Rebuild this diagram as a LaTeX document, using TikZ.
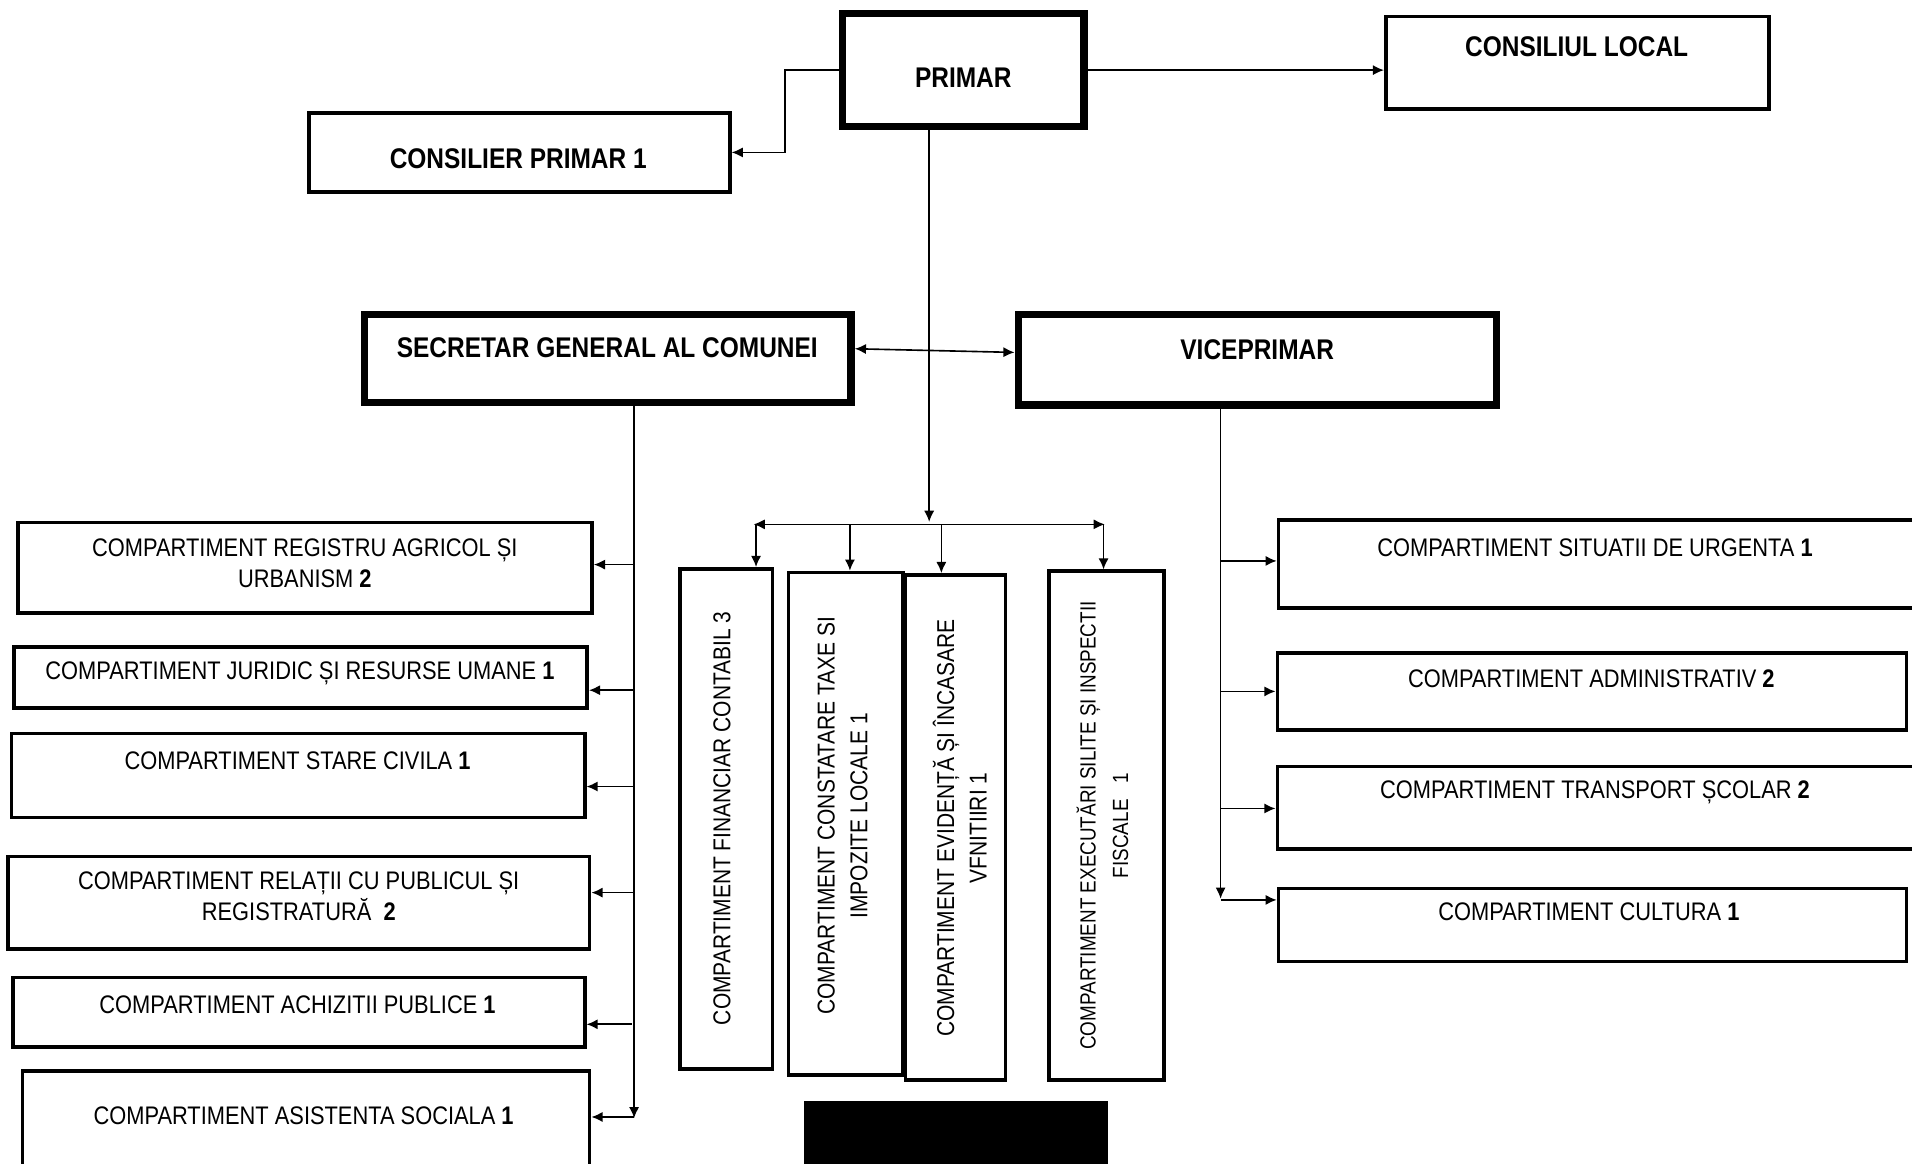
\documentclass[tikz,border=0pt]{standalone}
\usepackage{fontspec}
\setmainfont{Liberation Sans}[FakeStretch=0.86]
\usetikzlibrary{arrows.meta}
\tikzset{
  x=0.6pt, y=-0.6pt,
  thickbox/.style={draw, line width=3.6pt, inner sep=0pt},
  box/.style={draw, line width=1.8pt, inner sep=0pt},
  txt/.style={font=\fontsize{12.5}{15}\selectfont, align=center, inner sep=0pt},
  hdr/.style={font=\bfseries\fontsize{14}{16}\selectfont, align=center, inner sep=0pt},
  vtxt/.style={font=\fontsize{12}{16}\selectfont, align=center, inner sep=0pt, rotate=90},
  conn/.style={line width=0.8pt, -{Latex[length=5.5pt,width=5pt]}},
  dconn/.style={line width=0.8pt, {Latex[length=5.5pt,width=5pt]}-{Latex[length=5.5pt,width=5pt]}},
}
\newcommand\bx[6]{\node[#2, minimum width={(#5-#3)*0.6pt}, minimum height={(#6-#4)*0.6pt}] (#1) at ({(#3+#5)/2},{(#4+#6)/2}) {};}
\begin{document}
\begin{tikzpicture}
\useasboundingbox (0,0) rectangle (1568,954);
% boxes
\bx{primar}{thickbox}{691}{11}{889}{104}
\bx{cl}{box}{1136.5}{13.5}{1450.5}{89.5}
\bx{consilier}{box}{253.5}{92.5}{598.5}{157.5}
\bx{sec}{thickbox}{299}{258}{698}{330}
\bx{vice}{thickbox}{835}{258}{1227}{332}
\bx{reg}{box}{14.5}{428.5}{485.5}{502.5}
\bx{jur}{box}{11.5}{530.5}{481.5}{580.5}
\bx{stare}{box}{9.5}{601.5}{479.5}{670.5}
\bx{rel}{box}{6.5}{702.5}{483.5}{778.5}
\bx{ach}{box}{10.5}{801.5}{479.5}{858.5}
\bx{asist}{box}{18.5}{878.5}{483.5}{960}
\bx{sit}{box}{1048.5}{426.5}{1572}{498.5}
\bx{adm}{box}{1047.5}{535.5}{1563.5}{598.5}
\bx{trans}{box}{1047.5}{628.5}{1572}{696.5}
\bx{cult}{box}{1048.5}{728.5}{1563.5}{788.5}
\bx{fin}{box}{557.5}{466.5}{633.5}{876.5}
\bx{cons}{box}{646.5}{469.5}{740.5}{881.5}
\bx{evid}{box}{742.5}{471.5}{824.5}{885.5}
\bx{exec}{box}{860.5}{468.5}{954.5}{885.5}
% texts
\node[hdr] (tprimar) at (790,64) {PRIMAR};
\node[hdr] (tcl) at (1293,38) {CONSILIUL LOCAL};
\node[hdr] (tcons) at (425,130) {CONSILIER PRIMAR 1};
\node[hdr] (tsec) at (498,285) {SECRETAR GENERAL AL COMUNEI};
\node[hdr] (tvice) at (1031,287) {VICEPRIMAR};
\node[txt] (treg) at (250,462) {COMPARTIMENT REGISTRU AGRICOL ȘI\\URBANISM \textbf{2}};
\node[txt] (tjur) at (246,552) {COMPARTIMENT JURIDIC ȘI RESURSE UMANE \textbf{1}};
\node[txt] (tstare) at (244,624) {COMPARTIMENT STARE CIVILA \textbf{1}};
\node[txt] (trel) at (245,735) {COMPARTIMENT RELAȚII CU PUBLICUL ȘI\\REGISTRATURĂ\ \ \textbf{2}};
\node[txt] (tach) at (244,824) {COMPARTIMENT ACHIZITII PUBLICE \textbf{1}};
\node[txt] (tasist) at (249,915) {COMPARTIMENT ASISTENTA SOCIALA \textbf{1}};
\node[txt] (tsit) at (1308,449) {COMPARTIMENT SITUATII DE URGENTA \textbf{1}};
\node[txt] (tadm) at (1305,557) {COMPARTIMENT ADMINISTRATIV \textbf{2}};
\node[txt] (ttrans) at (1308,650) {COMPARTIMENT TRANSPORT ȘCOLAR \textbf{2}};
\node[txt] (tcult) at (1303,748) {COMPARTIMENT CULTURA \textbf{1}};
\node[vtxt] (tfin) at (592,671) {COMPARTIMENT FINANCIAR CONTABIL 3};
\node[vtxt] (tconst) at (691,669) {COMPARTIMENT CONSTATARE TAXE SI\\IMPOZITE LOCALE 1};
\node[vtxt] (tevid) at (787,679) {COMPARTIMENT EVIDENȚĂ ȘI ÎNCASARE\\VFNITIIRI 1};
\node[vtxt, font=\fontsize{10.8}{16}\selectfont] (texec) at (904,677) {COMPARTIMENT EXECUTĂRI SILITE ȘI INSPECTII\\FISCALE\ \ \ 1};
% redaction block
\fill (659,903) rectangle (909,958);
% connectors from PRIMAR
\draw[conn] (primar.east) -- (primar.east -| cl.west);
\draw[conn] (primar.west) -- ++(-44,0) |- (consilier.east);
\coordinate (busTop) at (762,428);
\coordinate (busL) at (618,430);
\coordinate (busR) at (906,430);
\draw[conn] (primar.south -| busTop) -- (busTop);
\draw[dconn] (busL) -- (busR);
\draw[conn] (620,430) -- (fin.north -| 620,0);
\draw[conn] (697,430) -- (cons.north -| 697,0);
\draw[conn] (772,430) -- (evid.north -| 772,0);
\draw[conn] (905,430) -- (exec.north -| 905,0);
% secretar <-> viceprimar
\draw[dconn] (sec.east |- 0,286) -- (vice.west |- 0,289);
% left bus
\coordinate (lb) at (520,917);
\draw[conn] (sec.south -| lb) -- (lb);
\draw[conn] (520,463) -- (reg.east |- 0,463);
\draw[conn] (520,566) -- (jur.east |- 0,566);
\draw[conn] (520,645) -- (stare.east |- 0,645);
\draw[conn] (520,732) -- (rel.east |- 0,732);
\draw[conn] (518,840) -- (ach.east |- 0,840);
\draw[conn] (520,916) -- (asist.east |- 0,916);
% right bus
\coordinate (rb) at (1001,737);
\draw[conn] (vice.south -| rb) -- (rb);
\draw[conn] (1001,460) -- (sit.west |- 0,460);
\draw[conn] (1001,567) -- (adm.west |- 0,567);
\draw[conn] (1001,663) -- (trans.west |- 0,663);
\draw[conn] (rb |- 0,738) -- (cult.west |- 0,738);
\end{tikzpicture}
\end{document}
